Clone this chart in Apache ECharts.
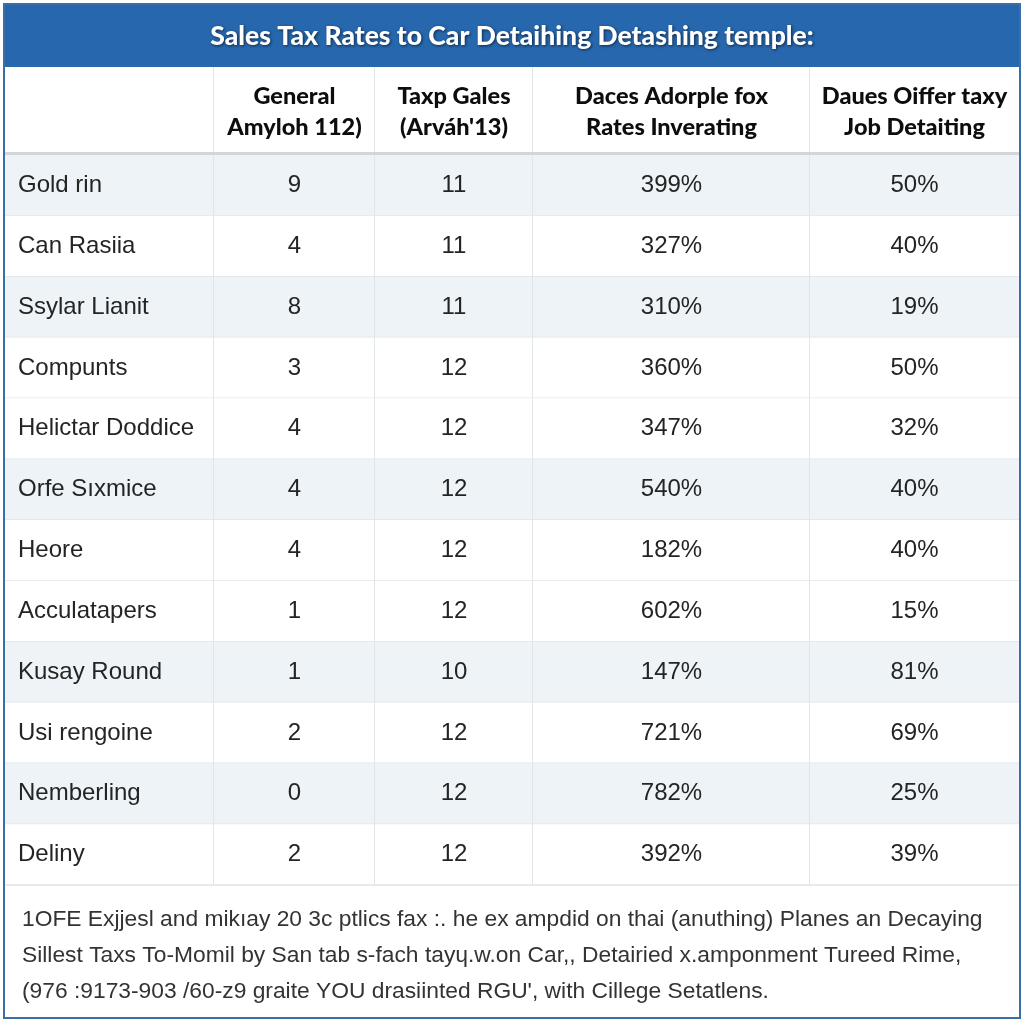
<!DOCTYPE html>
<html><head><meta charset="utf-8">
<script src="https://cdn.jsdelivr.net/npm/echarts@6/dist/echarts.min.js"></script>
<style>html,body{margin:0;padding:0;background:#fff}#c{width:1024px;height:1024px}</style>
</head><body><div id="c"></div>
<script>
// ---------------- data ----------------
const titleText = 'Sales Tax Rates to Car Detaihing Detashing temple:';
const columnHeaders = ['', 'General\nAmyloh 112)', 'Taxp Gales\n(Arváh\'13)', 'Daces Adorple fox\nRates Inverating', 'Daues Oiffer taxy\nJob Detaiting'];
const rowNames = ['Gold rin', 'Can Rasiia', 'Ssylar Lianit', 'Compunts', 'Helictar Doddice', 'Orfe Sıxmice', 'Heore', 'Acculatapers', 'Kusay Round', 'Usi rengoine', 'Nemberling', 'Deliny'];
const generalAmyloh = [9, 4, 8, 3, 4, 4, 4, 1, 1, 2, 0, 2];
const taxpGales = [11, 11, 11, 12, 12, 12, 12, 12, 10, 12, 12, 12];
const adorpleRates = [399, 327, 310, 360, 347, 540, 182, 602, 147, 721, 782, 392];
const oifferRates = [50, 40, 19, 50, 32, 40, 40, 15, 81, 69, 25, 39];
const shadedRows = [1, 0, 1, 0, 0, 1, 0, 0, 1, 0, 1, 0];
const footerLines = [
  '1OFE Exjjesl and mikıay 20 3c ptlics fax :. he ex ampdid on thai (anuthing) Planes an Decaying',
  'Sillest Taxs To-Momil by San tab s-fach tayɥ.w.on Car,, Detairied x.amponment Tureed Rime,',
  '(976 :9173-903 /60-z9 graite YOU drasiinted RGU\', with Cillege Setatlens.'
];

// ---------------- layout (not data) ----------------
const COL_EDGES = [0, 209, 370, 528, 805, 1014];
const GRID_LEFT = 5, GRID_W = 1014;
const BODY_FONT = "'Liberation Sans', Arial, sans-serif";
const HEAD_FONT = "Lato, 'Open Sans', sans-serif";
const LINE_COLOR = '#e1e5e8';
const SHADE_COLOR = '#edf3f6';

// build cell table
const bodyCells = [];
rowNames.forEach((name, r) => {
  const vals = [name, String(generalAmyloh[r]), String(taxpGales[r]), adorpleRates[r] + '%', oifferRates[r] + '%'];
  vals.forEach((v, c) => bodyCells.push({ value: [c, r], label: v, shaded: shadedRows[r] }));
});
const headCells = columnHeaders.map((h, c) => ({ value: [c, 0], label: h }));

function cellBox(api, c, r) {
  const p0 = api.coord([COL_EDGES[c], r]);
  const p1 = api.coord([COL_EDGES[c + 1], r]);
  const h = api.size([0, 1])[1];
  return { x: p0[0], y: p0[1] - h / 2, w: p1[0] - p0[0], h: h };
}

function renderBody(params, api) {
  const cell = bodyCells[params.dataIndex];
  const c = cell.value[0], r = cell.value[1];
  const b = cellBox(api, c, r);
  const children = [
    { type: 'rect', shape: { x: b.x, y: b.y, width: b.w, height: b.h }, style: { fill: cell.shaded ? SHADE_COLOR : '#ffffff' } },
    { type: 'line', shape: { x1: b.x, y1: b.y + b.h, x2: b.x + b.w, y2: b.y + b.h }, style: { stroke: LINE_COLOR, lineWidth: 1.5 } }
  ];
  if (c < 4) children.push({ type: 'line', shape: { x1: b.x + b.w, y1: b.y, x2: b.x + b.w, y2: b.y + b.h }, style: { stroke: LINE_COLOR, lineWidth: 2 } });
  children.push({
    type: 'text',
    style: {
      text: cell.label,
      x: c === 0 ? b.x + 13 : b.x + b.w / 2,
      y: b.y + b.h / 2,
      align: c === 0 ? 'left' : 'center',
      verticalAlign: 'middle',
      font: '24px ' + BODY_FONT,
      fill: '#242424'
    }
  });
  return { type: 'group', children: children };
}

function renderHead(params, api) {
  const cell = headCells[params.dataIndex];
  const c = cell.value[0];
  const b = cellBox(api, c, 0);
  const children = [
    { type: 'rect', shape: { x: b.x, y: b.y, width: b.w, height: b.h }, style: { fill: '#ffffff' } },
    { type: 'line', shape: { x1: b.x, y1: b.y + b.h - 1.5, x2: b.x + b.w, y2: b.y + b.h - 1.5 }, style: { stroke: '#d3d6d9', lineWidth: 3 } }
  ];
  if (c < 4) children.push({ type: 'line', shape: { x1: b.x + b.w, y1: b.y, x2: b.x + b.w, y2: b.y + b.h - 3 }, style: { stroke: LINE_COLOR, lineWidth: 2 } });
  children.push({
    type: 'text',
    style: {
      text: cell.label,
      x: b.x + b.w / 2,
      y: b.y + b.h / 2 + 1,
      align: 'center',
      verticalAlign: 'middle',
      font: '900 23.5px ' + HEAD_FONT,
      lineHeight: 31,
      fill: '#0d0d0d'
    }
  });
  return { type: 'group', children: children };
}

const chart = echarts.init(document.getElementById('c'), null, { renderer: 'canvas' });
chart.setOption({
  backgroundColor: '#ffffff',
  animation: false,
  title: [
    {
      text: titleText, left: 'center', top: 23, padding: 0,
      textStyle: { color: '#ffffff', fontFamily: HEAD_FONT, fontWeight: 900, fontSize: 26.5,
        textShadowColor: 'rgba(0,0,0,0.6)', textShadowBlur: 3, textShadowOffsetX: 1, textShadowOffsetY: 1 }
    },
    {
      text: footerLines.join('\n'), left: 22, top: 902, padding: 0,
      textStyle: { color: '#333333', fontFamily: BODY_FONT, fontWeight: 'normal', fontSize: 22.8, lineHeight: 36 }
    }
  ],
  graphic: [
    { type: 'rect', z: -10, shape: { x: 4, y: 4, width: 1016, height: 63 }, style: { fill: '#2767ad' } },
    { type: 'rect', z: 100, shape: { x: 4, y: 4, width: 1016, height: 1014 }, style: { fill: null, stroke: '#3c6ea6', lineWidth: 2 } }
  ],
  grid: [
    { left: GRID_LEFT, width: GRID_W, top: 67, height: 88 },
    { left: GRID_LEFT, width: GRID_W, top: 155, height: 730 }
  ],
  xAxis: [
    { gridIndex: 0, type: 'value', min: 0, max: COL_EDGES[COL_EDGES.length - 1], show: false },
    { gridIndex: 1, type: 'value', min: 0, max: COL_EDGES[COL_EDGES.length - 1], show: false }
  ],
  yAxis: [
    { gridIndex: 0, type: 'category', data: ['header'], show: false },
    { gridIndex: 1, type: 'category', data: rowNames, inverse: true, show: false }
  ],
  series: [
    { type: 'custom', xAxisIndex: 0, yAxisIndex: 0, renderItem: renderHead, data: headCells, silent: true },
    { type: 'custom', xAxisIndex: 1, yAxisIndex: 1, renderItem: renderBody, data: bodyCells, silent: true }
  ]
});
</script>
</body></html>
